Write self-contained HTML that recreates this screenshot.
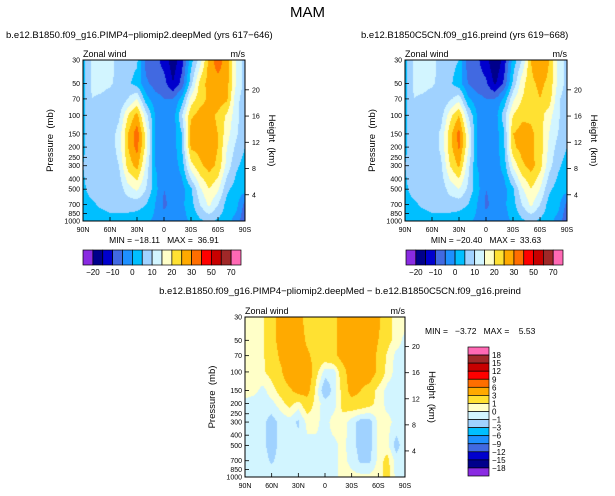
<!DOCTYPE html>
<html><head><meta charset="utf-8">
<style>
body{margin:0;background:#fff;width:615px;height:496px;overflow:hidden;position:relative;font-family:"Liberation Sans",sans-serif;}
.t{position:absolute;white-space:nowrap;color:#000;}
canvas{position:absolute;}
svg{position:absolute;left:0;top:0;}
svg text{white-space:pre;}
</style></head><body>
<div class="t" style="left:0;width:615px;text-align:center;top:4px;font-size:15px;">MAM</div>
<div class="t" style="left:6px;top:30px;font-size:9.5px;">b.e12.B1850.f09_g16.PIMP4−pliomip2.deepMed (yrs 617−646)</div>
<div class="t" style="left:361px;top:30px;font-size:9.5px;">b.e12.B1850C5CN.f09_g16.preind (yrs 619−668)</div>
<div class="t" style="left:0;width:680px;text-align:center;top:286px;font-size:9.5px;">b.e12.B1850.f09_g16.PIMP4−pliomip2.deepMed − b.e12.B1850C5CN.f09_g16.preind</div>
<canvas id="c1" width="162" height="161" style="left:83px;top:60px"></canvas>
<canvas id="c2" width="162" height="161" style="left:405px;top:60px"></canvas>
<canvas id="c3" width="160" height="160" style="left:245px;top:317px"></canvas>
<svg id="ov" width="615" height="496"></svg>
<script>
// ---- data ----
const lats = [90,80,70,60,50,40,30,20,10,0,-10,-20,-30,-40,-50,-60,-70,-80,-90];
const pressures = [30,50,70,100,150,200,300,500,700,1000];
const uModel = [
[3,11,12,12,8,7,6,-7,-8,-12,-18,-12,3,12,27,33,27,15,8],
[3,11,12,11,8,6,3,-4,-7,-8,-15,-8,8,22,27,28,27,15,8],
[4,10,9,7,5,10,15,2,-3,-5,-5,2,17,23,26,28,26,12,7],
[4,8,8,7,9,20,27,12,0,-3,-3,10,24,27,27,24,19,12,6],
[4,8,8,7,12,25,33,18,0,-3,-3,5,28,28,27,25,17,11,6],
[4,8,8,7,12,25,32,18,0,-3,-3,5,26,27,27,25,15,9,5],
[5,8,8,7,10,22,27,14,0,-2,-3,2,18,24,27,24,13,6,3],
[4,7,7,5,7,13,16,10,2,-5,-3,-2,4,14,20,16,6,3,2],
[3,4,6,7,7,7,7,5,0,-6,-3,-1,3,10,16,10,3,2,-7],
[2,2,2,3,3,3,2,1,-1,-3,-3,-2,1,4,6,4,2,-2,-9]];
const uCtrl = [
[3,11,12,12,8,7,5,-8,-9,-13,-20,-13,2,10,25,30,25,14,8],
[3,11,12,11,8,6,2,-5,-8,-9,-16,-9,6,18,24,26,24,14,8],
[4,10,9,7,5,9,13,1,-3,-5,-5,1,14,20,23,25,23,11,7],
[4,8,8,7,8,18,25,10,0,-3,-3,8,20,24,24,22,17,11,6],
[4,8,8,7,11,23,32,16,0,-3,-3,4,25,27,26,23,15,10,6],
[4,8,8,7,11,23,31,16,0,-3,-3,4,24,27,26,23,14,8,5],
[5,8,8,7,9,20,26,12,0,-2,-3,2,16,24,27,22,12,6,3],
[4,7,7,5,7,12,15,9,2,-5,-3,-2,4,14,20,15,6,3,2],
[3,4,6,7,7,7,7,5,0,-6,-3,-1,3,10,16,10,3,2,-7],
[2,2,2,3,3,3,2,1,-1,-3,-3,-2,1,4,6,4,2,-2,-9]];
const uDiff = [
[0.5,0.6,0.9,2,4,4.5,4,2,2,2,2.5,4,4.5,4.5,4.5,3.5,1.5,0.6,0.5],
[0.5,0.6,0.9,2,4,4.5,4.5,2.5,2,2,2.5,4,4.5,4.5,4.5,3,1.5,0.5,-0.3],
[0.5,0.6,0.9,1.5,3.5,4.5,4.5,3.5,2,2,2.5,4,4.5,4.5,4.5,2.5,0.8,-0.3,-0.3],
[0.5,0.6,0.8,1.5,2.5,5,5,5,1.5,-0.5,-0.5,2,4.5,4.5,4.5,2.5,0.5,-0.3,-0.3],
[0.5,0.3,-0.3,0.5,1.5,2.5,4,4,0.5,-2,-0.5,1.5,4,3,2,0.5,-0.3,-0.3,-0.3],
[-0.3,-0.5,-0.5,-0.3,0.5,1.5,0.5,2,0.5,-0.5,-0.5,1.5,2,2,1.5,0.5,-0.3,-0.3,-0.3],
[-0.3,-0.5,-0.7,-1.5,-0.7,-0.5,-1.2,0.3,0.3,-0.5,0.5,0.5,-0.5,-1.5,-1.5,0.3,0.3,-0.3,-0.3],
[-0.3,-0.5,-0.7,-1.5,-0.7,-0.5,-0.5,-0.3,-0.3,-0.3,-0.3,0.3,-0.5,-1.5,-1.5,0.3,0.3,-1.5,-0.3],
[-0.3,-0.3,-0.5,-1.2,-0.5,-0.3,-0.3,-0.3,-0.3,-0.3,-0.3,0.3,-0.3,-1.2,-1.2,0.3,1.5,-0.5,-0.3],
[-0.3,-0.3,-0.3,-0.3,-0.3,-0.3,-0.3,-0.3,-0.3,-0.3,-0.3,0.3,0.3,0.3,0.3,0.5,1.5,-0.3,-0.3]];
const levelsU = [-20,-15,-10,-5,0,5,10,15,20,25,30,40,50,60,70];
const levelsD = [-18,-15,-12,-9,-6,-3,-1,0,1,3,6,9,12,15,18];
const colors = ["#8a2be2","#00008b","#0000cd","#4169e1","#1e90ff","#00bfff","#a0d2ff","#d2f5ff","#ffffc8","#ffe132","#ffaa00","#ff6e00","#ff0000","#c80000","#a02828","#ff69b4"];
const presTicks = [30,50,70,100,150,200,250,300,400,500,700,850,1000];
const latTicks = ["90N","60N","30N","0","30S","60S","90S"];
const kmTicks = [4,8,12,16,20];
const labU = ["-20","-10","0","10","20","30","50","70"];
const labD = ["18","15","12","9","6","3","1","0","−1","−3","−6","−9","−12","−15","−18"];

function hex(c){return [parseInt(c.substr(1,2),16),parseInt(c.substr(3,2),16),parseInt(c.substr(5,2),16)];}
const rgb = colors.map(hex);
const L30=Math.log(30), L1000=Math.log(1000);
const lp = pressures.map(Math.log);
const dLat = lats[0]-lats[1];
function val(grid,lat,s){
  let fi=(lats[0]-lat)/dLat; let i0=Math.min(Math.floor(fi),lats.length-2); let fx=fi-i0;
  let j0=0; while(j0<lp.length-2 && s>lp[j0+1]) j0++;
  let fy=(s-lp[j0])/(lp[j0+1]-lp[j0]); fy=Math.max(0,Math.min(1,fy));
  const a=grid[j0][i0],b=grid[j0][i0+1],c=grid[j0+1][i0],d=grid[j0+1][i0+1];
  return (a*(1-fx)+b*fx)*(1-fy)+(c*(1-fx)+d*fx)*fy;
}
function paint(id,grid,levels){
  const cv=document.getElementById(id),ctx=cv.getContext('2d'),w=cv.width,h=cv.height;
  const im=ctx.createImageData(w,h);
  for(let j=0;j<h;j++)for(let i=0;i<w;i++){
    const lat=90-(i+0.5)/w*180, s=L30+(j+0.5)/h*(L1000-L30);
    const v=val(grid,lat,s); let k=0; while(k<levels.length&&v>=levels[k])k++;
    const c=rgb[k],o=(j*w+i)*4; im.data[o]=c[0];im.data[o+1]=c[1];im.data[o+2]=c[2];im.data[o+3]=255;
  }
  ctx.putImageData(im,0,0);
}
paint('c1',uModel,levelsU);paint('c2',uCtrl,levelsU);paint('c3',uDiff,levelsD);

const svg=document.getElementById('ov'),NS="http://www.w3.org/2000/svg";
function el(tag,attrs,txt){const e=document.createElementNS(NS,tag);for(const k in attrs)e.setAttribute(k,attrs[k]);if(txt!==undefined)e.textContent=txt;svg.appendChild(e);return e;}
function axes(x0,y0,w,h,pfx){
  const r=el('rect',{x:x0,y:y0,width:w,height:h,fill:'none',stroke:'#000','stroke-width':1});
  
  
  const py=p=>y0+(Math.log(p)-L30)/(L1000-L30)*h;
  presTicks.forEach(p=>{const y=py(p);
    el('line',{x1:x0,x2:x0+4,y1:y,y2:y,stroke:'#000','stroke-width':0.8});
    const t=el('text',{x:x0-3,y:y+2.5,'font-size':7,'text-anchor':'end','font-family':'Liberation Sans'},p);
    
    });
  latTicks.forEach((l,i)=>{const x=x0+i*w/6;
    el('line',{x1:x,x2:x,y1:y0+h,y2:y0+h-4,stroke:'#000','stroke-width':0.8});
    const t=el('text',{x:x,y:y0+h+11,'font-size':7,'text-anchor':'middle','font-family':'Liberation Sans'},l);
    
    });
  kmTicks.forEach(z=>{const y=y0+h-(z/7)/(L1000-L30)*h;
    el('line',{x1:x0+w,x2:x0+w+4,y1:y,y2:y,stroke:'#000','stroke-width':0.8});
    const t=el('text',{x:x0+w+7,y:y+2.5,'font-size':7,'font-family':'Liberation Sans'},z);
    
    });
  let t=el('text',{x:x0,y:y0-3,'font-size':9,'font-family':'Liberation Sans'},'Zonal wind');
  
  t=el('text',{x:x0+w,y:y0-3,'font-size':9,'text-anchor':'end','font-family':'Liberation Sans'},'m/s');
  
  t=el('text',{x:x0-30,y:y0+h/2,'font-size':9.5,'text-anchor':'middle','font-family':'Liberation Sans',transform:`rotate(-90 ${x0-30} ${y0+h/2})`},'Pressure  (mb)');
  
  t=el('text',{x:x0+w+24,y:y0+h/2,'font-size':9.5,'text-anchor':'middle','font-family':'Liberation Sans',transform:`rotate(90 ${x0+w+24} ${y0+h/2})`},'Height  (km)');
  
}
axes(83,60,162,161,'left');axes(405,60,162,161,'right');axes(245,317,160,160,'diff');
function stats(x,y,txt,nm,anchor){const t=el('text',{x:x,y:y,'font-size':8.5,'text-anchor':anchor,'font-family':'Liberation Sans'},txt);
  }
stats(164,243,'MIN = −18.11   MAX =  36.91','left-min-max','middle');
stats(486,243,'MIN = −20.40   MAX =  33.63','right-min-max','middle');
stats(425,334,'MIN =   −3.72   MAX =    5.53','diff-min-max','start');
function hbar(x0,y0,w,h,pfx){
  const bw=w/colors.length;
  colors.forEach((c,i)=>{const r=el('rect',{x:x0+i*bw,y:y0,width:bw,height:h,fill:c,stroke:'#000','stroke-width':0.7});
    });
  labU.forEach((l,i)=>{const t=el('text',{x:x0+bw*(1+2*i),y:y0+h+10,'font-size':8,'text-anchor':'middle','font-family':'Liberation Sans'},l.replace('-','−'));
    });
}
hbar(83,250,158,15,'left');hbar(406,250,157,15,'right');
(function(){const x0=468,y0=347,w=21,h=129,bh=h/colors.length;
  colors.slice().reverse().forEach((c,i)=>{const r=el('rect',{x:x0,y:y0+i*bh,width:w,height:bh,fill:c,stroke:'#000','stroke-width':0.7});
    });
  labD.forEach((l,i)=>{const t=el('text',{x:x0+w+3,y:y0+(i+1)*bh+3,'font-size':8,'font-family':'Liberation Sans'},l);
    });
})();
</script>
</body></html>
